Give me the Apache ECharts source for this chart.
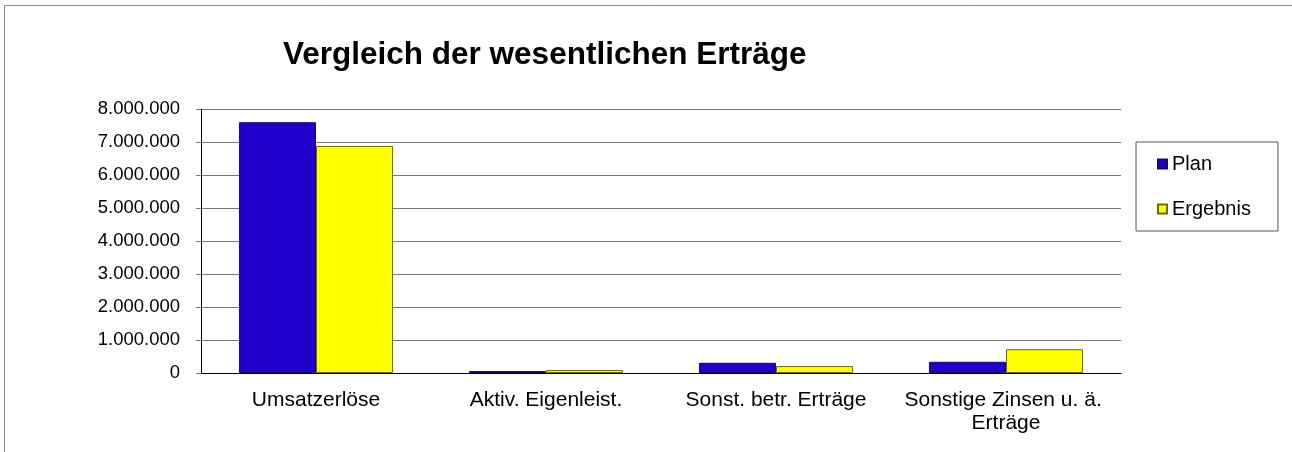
<!DOCTYPE html>
<html>
<head>
<meta charset="utf-8">
<script src="https://cdn.jsdelivr.net/npm/echarts@6/dist/echarts.min.js"></script>
<style>
  html, body { margin: 0; padding: 0; background: #fff; }
  #chart { width: 1292px; height: 452px; }
</style>
</head>
<body>
<div id="chart"></div>
<script>
const categories = ['Umsatzerlöse', 'Aktiv. Eigenleist.', 'Sonst. betr. Erträge', 'Sonstige Zinsen u. ä. Erträge']
const planValues = [7600000, 60000, 310000, 340000]
const ergebnisValues = [6880000, 90000, 210000, 720000]
const seriesNames = ['Plan', 'Ergebnis']

const fontFamily = '"Liberation Sans", Arial, sans-serif'

// deutsche Tausenderpunkte
function formatDe(v) {
  return String(v).replace(/\B(?=(\d{3})+(?!\d))/g, '.')
}

const myChart = echarts.init(document.getElementById('chart'))

const option = {
  animation: false,
  backgroundColor: '#fff',
  textStyle: { fontFamily: fontFamily },
  graphic: [
    {
      type: 'rect',
      shape: { x: 4.5, y: 5.5, width: 1400, height: 600 },
      style: { fill: 'none', stroke: '#8c8c8c', lineWidth: 1 },
      silent: true
    }
  ],
  title: {
    text: 'Vergleich der wesentlichen Erträge',
    left: 278,
    top: 34,
    textStyle: { fontSize: 31.5, fontWeight: 'bold', color: '#000', fontFamily: fontFamily }
  },
  legend: {
    data: seriesNames,
    orient: 'vertical',
    left: 1136,
    top: 142,
    padding: [12, 27, 12, 21],
    itemGap: 25,
    icon: 'rect',
    itemWidth: 9,
    itemHeight: 9,
    borderColor: '#555',
    borderWidth: 1,
    textStyle: { fontSize: 20, color: '#000', fontFamily: fontFamily }
  },
  grid: {
    left: 201,
    right: 171,
    top: 109,
    bottom: 79,
    containLabel: false
  },
  xAxis: {
    type: 'category',
    data: categories,
    axisLine: { lineStyle: { color: '#000', width: 1 } },
    axisTick: { length: 5, lineStyle: { color: '#666' } },
    axisLabel: {
      fontSize: 21,
      color: '#000',
      margin: 16,
      width: 228,
      overflow: 'break',
      lineHeight: 23,
      interval: 0
    }
  },
  yAxis: {
    type: 'value',
    min: 0,
    max: 8000000,
    interval: 1000000,
    axisLine: { show: true, lineStyle: { color: '#000', width: 1 } },
    axisTick: { show: true, length: 5, lineStyle: { color: '#777' } },
    splitLine: { lineStyle: { color: '#777', width: 1 } },
    axisLabel: {
      fontSize: 18.5,
      color: '#000',
      margin: 21,
      padding: [3, 0, 0, 0],
      formatter: formatDe
    }
  },
  series: [
    {
      name: 'Plan',
      type: 'bar',
      data: planValues,
      barGap: '0%',
      barCategoryGap: '33%',
      itemStyle: { color: '#2200cc', borderColor: '#1a0a66', borderWidth: 1 }
    },
    {
      name: 'Ergebnis',
      type: 'bar',
      data: ergebnisValues,
      itemStyle: { color: '#ffff00', borderColor: '#6b6b00', borderWidth: 1 }
    }
  ]
}

myChart.setOption(option)
</script>
</body>
</html>
